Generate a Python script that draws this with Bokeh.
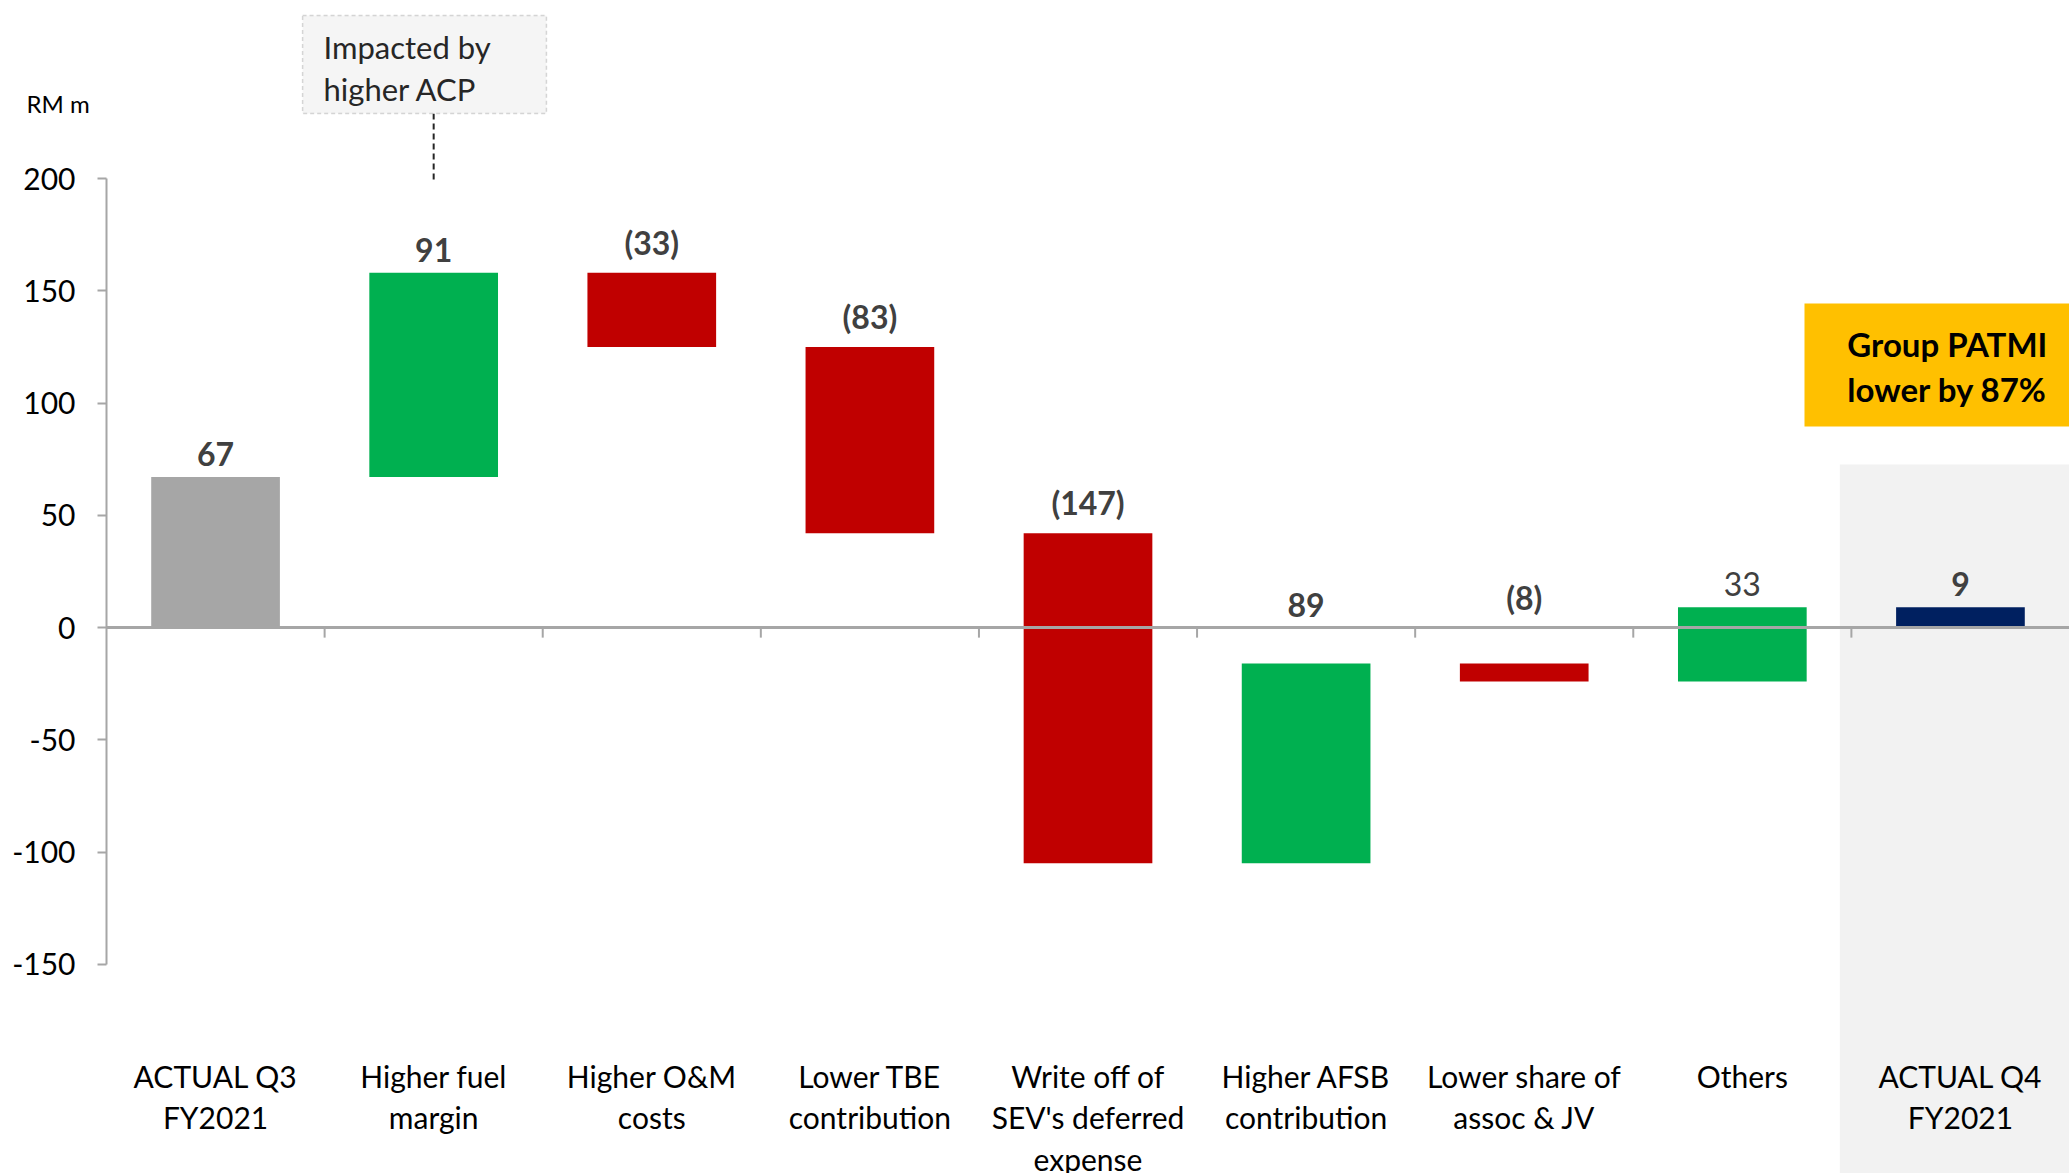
from bokeh.plotting import figure
from bokeh.models import (Range1d, FixedTicker, Span, BoxAnnotation, Label,
                          ColumnDataSource)
from bokeh.core.properties import value
from bokeh.embed import file_html
from bokeh.resources import INLINE

# ---- data ----
categories = [
    "ACTUAL Q3\nFY2021",
    "Higher fuel\nmargin",
    "Higher O&M\ncosts",
    "Lower TBE\ncontribution",
    "Write off of\nSEV's deferred\nexpense",
    "Higher AFSB\ncontribution",
    "Lower share of\nassoc & JV",
    "Others",
    "ACTUAL Q4\nFY2021",
]
changes = [67, 91, -33, -83, -147, 89, -8, 33, 9]
is_total = [True, False, False, False, False, False, False, False, True]
bar_colors = ["#A6A6A6", "#00B050", "#C00000", "#C00000", "#C00000",
              "#00B050", "#C00000", "#00B050", "#002060"]
label_styles = ["bold", "bold", "bold", "bold", "bold", "bold", "bold", "normal", "bold"]
y_ticks = [-150, -100, -50, 0, 50, 100, 150, 200]

FONT = "Lato"

# ---- waterfall geometry ----
bottoms, tops, xs, texts, label_y = [], [], [], [], []
running = 0
for i, (c, tot) in enumerate(zip(changes, is_total)):
    if tot:
        b, t = 0, c
        running = c
    else:
        b, t = running, running + c
        running += c
    bottoms.append(b)
    tops.append(t)
    xs.append(i + 0.5)
    texts.append(str(c) if c >= 0 else "(%d)" % (-c))
    label_y.append(max(b, t, 0))

src = ColumnDataSource(dict(x=xs, bottom=bottoms, top=tops, color=bar_colors,
                            txt=texts, ly=label_y, style=label_styles, cat=categories))

# frame covers the whole canvas; the y axis is pinned at x = 0
p = figure(width=2069, height=1173, output_backend="svg", toolbar_location=None,
           x_range=Range1d(-0.486, 9), y_range=Range1d(-243.2, 279.3),
           x_axis_type=None, min_border_left=0, min_border_right=0,
           min_border_top=0, min_border_bottom=0)
p.outline_line_color = None
p.grid.grid_line_color = None
p.background_fill_color = "white"
p.border_fill_color = "white"

# grey highlight panel behind last category
p.add_layout(BoxAnnotation(left=7.947, right=None, top=72.6, bottom=None,
                           fill_color="#F2F2F2", fill_alpha=1, line_color=None,
                           level="underlay"))

p.vbar(x="x", width=0.59, bottom="bottom", top="top", fill_color="color",
       line_color=None, source=src)

# zero line with category boundary ticks
zero_line = Span(location=0, dimension="width", line_color="#A6A6A6", line_width=3)
p.add_layout(zero_line)
bounds_x = list(range(1, len(categories)))
p.segment(x0=bounds_x, y0=[0] * len(bounds_x), x1=bounds_x, y1=[-4.5] * len(bounds_x),
          line_color="#A6A6A6", line_width=2)

# value labels
p.text(x="x", y="ly", text="txt", source=src, text_align="center",
       text_baseline="bottom", y_offset=-11, text_font=value(FONT),
       text_font_size="32px", text_font_style="style", text_color="#404040")

# category labels
p.text(x="x", y=-191.8, text="cat", source=src, text_align="center",
       text_baseline="top", text_line_height=1.15, text_font=value(FONT),
       text_font_size="30px", text_color="#000000")

# y axis
p.yaxis.fixed_location = 0
p.yaxis.ticker = FixedTicker(ticks=y_ticks)
p.yaxis.major_label_overrides = {t: str(t) for t in y_ticks}
p.yaxis.bounds = (-150, 200)
p.yaxis.axis_line_color = "#A6A6A6"
p.yaxis.axis_line_width = 2
p.yaxis.major_tick_line_color = "#A6A6A6"
p.yaxis.major_tick_line_width = 2
p.yaxis.major_tick_out = 9
p.yaxis.major_tick_in = 0
p.yaxis.minor_tick_line_color = None
p.yaxis.major_label_standoff = 22
p.yaxis.major_label_text_font = FONT
p.yaxis.major_label_text_font_size = "30px"
p.yaxis.major_label_text_color = "#000000"

# zero line should start at the y axis
zero_line.visible = False
p.segment(x0=[0], y0=[0], x1=[9], y1=[0], line_color="#A6A6A6", line_width=3)

p.add_layout(Label(x=-0.367, y=233.4, text="RM m", text_baseline="middle",
                   text_font=FONT, text_font_size="24px", text_color="#000000"))

# callout box
p.add_layout(BoxAnnotation(left=0.899, right=2.017, top=272.6, bottom=229,
                           fill_color="#F5F5F5", fill_alpha=1, line_color="#7F7F7F",
                           line_dash="4 3", line_width=1.5))
p.segment(x0=[1.5], y0=[229], x1=[1.5], y1=[198], line_color="#262626",
          line_width=2, line_dash="6 4")
p.add_layout(Label(x=0.995, y=258.4, text="Impacted by", text_baseline="middle",
                   text_font=FONT, text_font_size="31px", text_color="#262626"))
p.add_layout(Label(x=0.995, y=240.1, text="higher ACP", text_baseline="middle",
                   text_font=FONT, text_font_size="31px", text_color="#262626"))

# yellow highlight box
p.add_layout(BoxAnnotation(left=7.785, right=None, top=144.3, bottom=89.5,
                           fill_color="#FFC000", fill_alpha=1, line_color=None))
p.add_layout(Label(x=8.44, y=126.3, text="Group PATMI", text_align="center",
                   text_baseline="middle", text_font=FONT, text_font_size="33px",
                   text_font_style="bold", text_color="#000000"))
p.add_layout(Label(x=8.44, y=106.2, text="lower by 87%", text_align="center",
                   text_baseline="middle", text_font=FONT, text_font_size="33px",
                   text_font_style="bold", text_color="#000000"))

open("out.html", "w").write(file_html(p, INLINE))
